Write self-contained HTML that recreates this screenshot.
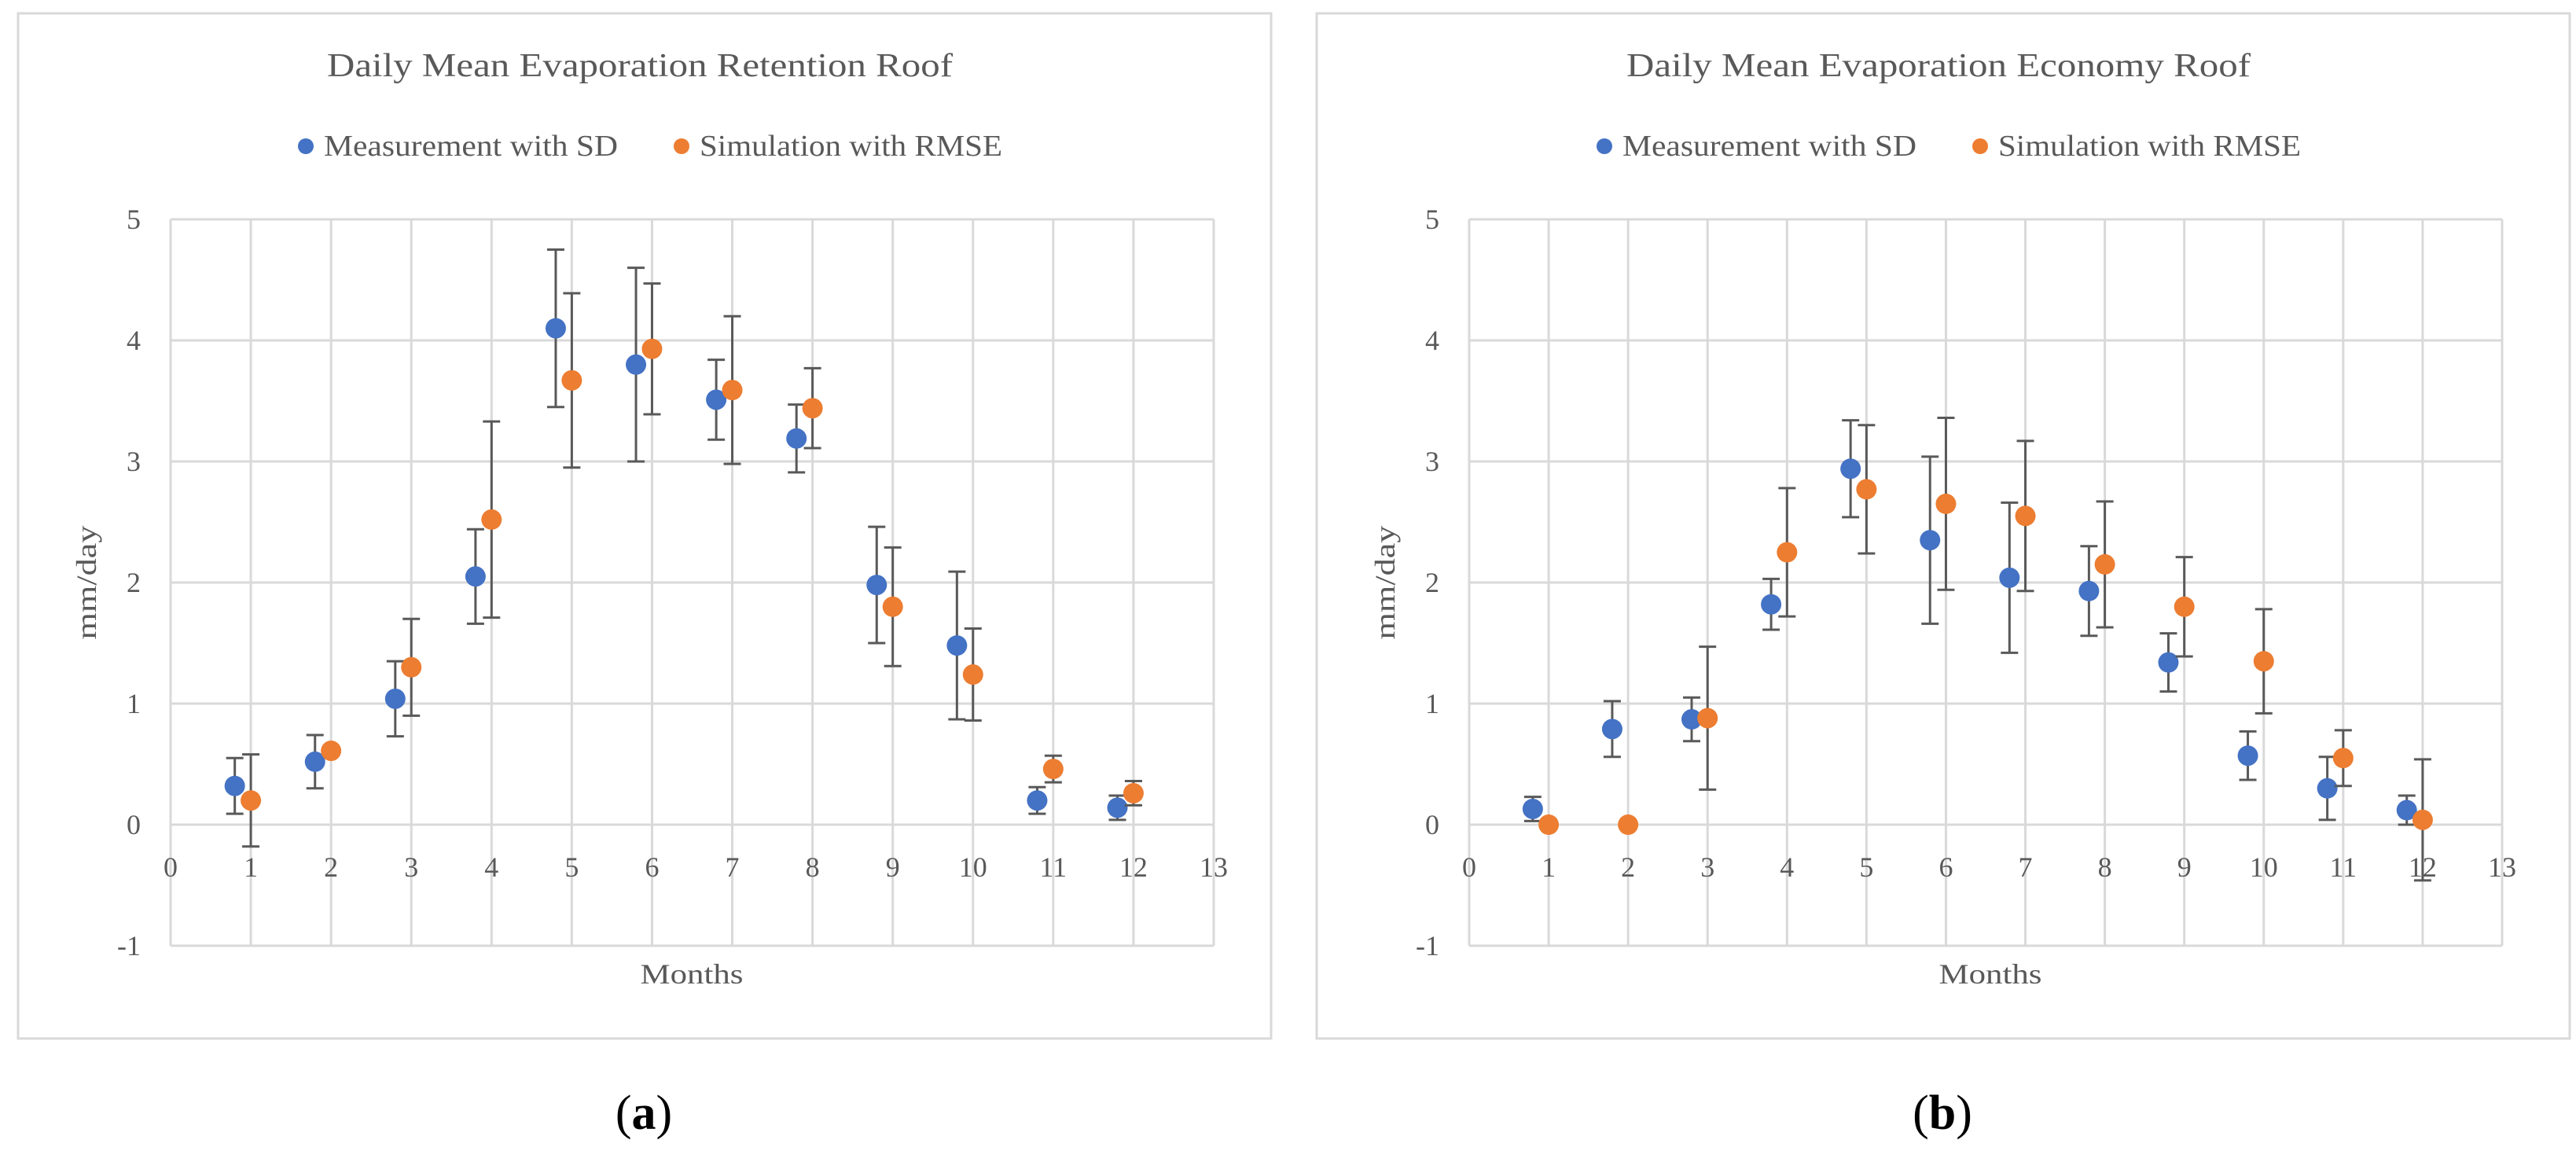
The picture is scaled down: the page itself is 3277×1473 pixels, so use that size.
<!DOCTYPE html>
<html><head><meta charset="utf-8"><style>
html,body{margin:0;padding:0;background:#fff;}
svg{display:block;font-family:"Liberation Serif",serif;}
</style></head><body>
<svg id="fig" width="3277" height="1473" viewBox="0 0 3277 1473" xmlns="http://www.w3.org/2000/svg"></svg>
<script>
const months = [1,2,3,4,5,6,7,8,9,10,11,12];
const xTicks = [0,1,2,3,4,5,6,7,8,9,10,11,12,13];
const yTicks = [-1,0,1,2,3,4,5];
const measA = [0.32,0.52,1.04,2.05,4.10,3.80,3.51,3.19,1.98,1.48,0.20,0.14];
const measSdA = [0.23,0.22,0.31,0.39,0.65,0.80,0.33,0.28,0.48,0.61,0.11,0.10];
const simA = [0.20,0.61,1.30,2.52,3.67,3.93,3.59,3.44,1.80,1.24,0.46,0.26];
const simRmseA = [0.38,0,0.40,0.81,0.72,0.54,0.61,0.33,0.49,0.38,0.11,0.10];
const measB = [0.13,0.79,0.87,1.82,2.94,2.35,2.04,1.93,1.34,0.57,0.30,0.12];
const measSdB = [0.10,0.23,0.18,0.21,0.40,0.69,0.62,0.37,0.24,0.20,0.26,0.12];
const simB = [0,0,0.88,2.25,2.77,2.65,2.55,2.15,1.80,1.35,0.55,0.04];
const simRmseB = [0,0,0.59,0.53,0.53,0.71,0.62,0.52,0.41,0.43,0.23,0.50];

const NS="http://www.w3.org/2000/svg";
const svg=document.getElementById('fig');
function mk(tag,attrs,parent){const e=document.createElementNS(NS,tag);for(const k in attrs)e.setAttribute(k,attrs[k]);(parent||svg).appendChild(e);return e;}

function panel(id,ox,left,right,title,titleLen,label,meas,msd,sim,srmse){
  const top=279,bottom=1203;
  const g=mk('g',{});
  
  
  const xs=v=>left+(v-0)/13*(right-left);
  const ys=v=>top+(5-v)/6*(bottom-top);
  const frame=mk('rect',{x:ox+23,y:17,width:1594,height:1304,fill:'#fff',stroke:'#d9d9d9','stroke-width':3},g);
  
  
  const t=mk('text',{x:ox+814,y:97,'text-anchor':'middle','font-size':42,fill:'#595959',textLength:titleLen,lengthAdjust:'spacingAndGlyphs'},g);
  t.textContent=title;
  
  
  const l1=mk('g',{},g);
  
  
  mk('circle',{cx:ox+389,cy:186,r:10,fill:'#4472C4'},l1);
  const lt1=mk('text',{x:ox+412,y:198,'font-size':38,fill:'#595959',textLength:374,lengthAdjust:'spacingAndGlyphs'},l1);lt1.textContent='Measurement with SD';
  const l2=mk('g',{},g);
  
  
  mk('circle',{cx:ox+867,cy:186,r:10,fill:'#ED7D31'},l2);
  const lt2=mk('text',{x:ox+890,y:198,'font-size':38,fill:'#595959',textLength:385,lengthAdjust:'spacingAndGlyphs'},l2);lt2.textContent='Simulation with RMSE';
  yTicks.forEach(v=>{
    const ln=mk('line',{x1:left,x2:right,y1:ys(v),y2:ys(v),stroke:'#d9d9d9','stroke-width':3},g);
    
    
    const tx=mk('text',{x:left-38,y:ys(v)+12,'text-anchor':'end','font-size':36,fill:'#595959'},g);
    tx.textContent=String(v);
    
    
  });
  xTicks.forEach(v=>{
    const ln=mk('line',{x1:xs(v),x2:xs(v),y1:top,y2:bottom,stroke:'#d9d9d9','stroke-width':3},g);
    
    
    const tx=mk('text',{x:xs(v),y:1115,'text-anchor':'middle','font-size':36,fill:'#595959'},g);
    tx.textContent=String(v);
    
    
  });
  const yt=mk('text',{x:0,y:0,'text-anchor':'middle','font-size':36,fill:'#595959',textLength:145,lengthAdjust:'spacingAndGlyphs',transform:`translate(${ox+122},741) rotate(-90)`},g);
  yt.textContent='mm/day';
  
  
  const xt=mk('text',{x:ox+880,y:1251,'text-anchor':'middle','font-size':36,fill:'#595959',textLength:131,lengthAdjust:'spacingAndGlyphs'},g);
  xt.textContent='Months';
  
  
  const pl=mk('text',{x:ox+819,y:1436,'text-anchor':'middle','font-size':62,fill:'#000'},g);
  pl.innerHTML='(<tspan font-weight="bold">'+label+'</tspan>)';
  
  
  function series(vals,errs,off,color,name){
    vals.forEach((v,i)=>{
      const x=xs(months[i]+off);
      if(errs[i]>0){
        const eb=mk('g',{stroke:'#595959','stroke-width':3},g);
        
        
        mk('line',{x1:x,x2:x,y1:ys(v-errs[i]),y2:ys(v+errs[i])},eb);
        mk('line',{x1:x-11,x2:x+11,y1:ys(v-errs[i]),y2:ys(v-errs[i])},eb);
        mk('line',{x1:x-11,x2:x+11,y1:ys(v+errs[i]),y2:ys(v+errs[i])},eb);
      }
    });
    vals.forEach((v,i)=>{
      const c=mk('circle',{cx:xs(months[i]+off),cy:ys(v),r:13,fill:color},g);
      
      
    });
  }
  series(meas,msd,-0.2,'#4472C4','measurement');
  series(sim,srmse,0,'#ED7D31','simulation');
}
panel('a',0,217,1544,'Daily Mean Evaporation Retention Roof',796,'a',measA,measSdA,simA,simRmseA);
panel('b',1652,1869,3183,'Daily Mean Evaporation Economy Roof',794,'b',measB,measSdB,simB,simRmseB);
</script>
</body></html>
